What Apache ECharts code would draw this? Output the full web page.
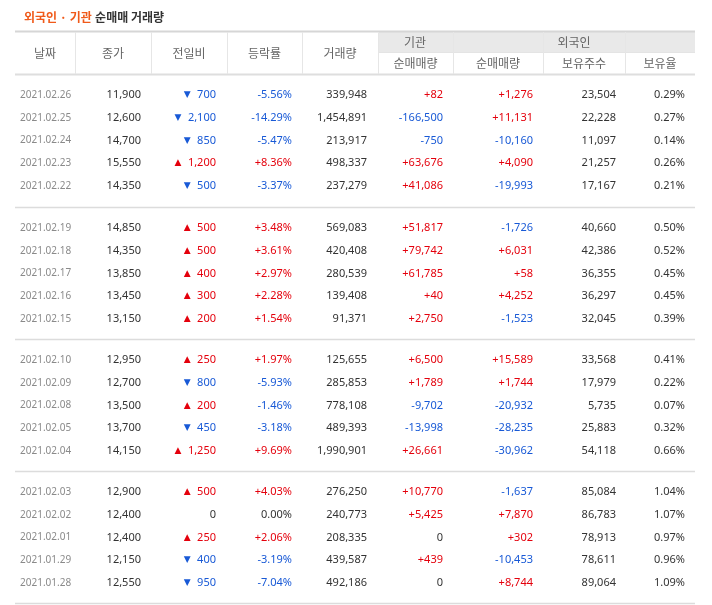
<!DOCTYPE html>
<html><head><meta charset="utf-8">
<script src="https://cdn.jsdelivr.net/npm/echarts@6/dist/echarts.min.js"></script>
<style>html,body{margin:0;padding:0;background:#fff}#c{width:712px;height:605px}</style>
</head><body><div id="c"></div>
<script>
const dates=["2021.02.26","2021.02.25","2021.02.24","2021.02.23","2021.02.22","2021.02.19","2021.02.18","2021.02.17","2021.02.16","2021.02.15","2021.02.10","2021.02.09","2021.02.08","2021.02.05","2021.02.04","2021.02.03","2021.02.02","2021.02.01","2021.01.29","2021.01.28"];
const close=[11900,12600,14700,15550,14350,14850,14350,13850,13450,13150,12950,12700,13500,13700,14150,12900,12400,12400,12150,12550];
const change=[-700,-2100,-850,1200,-500,500,500,400,300,200,250,-800,200,-450,1250,500,0,250,-400,-950];
const rate=[-5.56,-14.29,-5.47,8.36,-3.37,3.48,3.61,2.97,2.28,1.54,1.97,-5.93,-1.46,-3.18,9.69,4.03,0.00,2.06,-3.19,-7.04];
const volume=[339948,1454891,213917,498337,237279,569083,420408,280539,139408,91371,125655,285853,778108,489393,1990901,276250,240773,208335,439587,492186];
const inst=[82,-166500,-750,63676,41086,51817,79742,61785,40,2750,6500,1789,-9702,-13998,26661,10770,5425,0,439,0];
const foreign=[1276,11131,-10160,4090,-19993,-1726,6031,58,4252,-1523,15589,1744,-20932,-28235,-30962,-1637,7870,302,-10453,8744];
const holdings=[23504,22228,11097,21257,17167,40660,42386,36355,36297,32045,33568,17979,5735,25883,54118,85084,86783,78913,78611,89064];
const holdRate=[0.29,0.27,0.14,0.26,0.21,0.50,0.52,0.45,0.45,0.39,0.41,0.22,0.07,0.32,0.66,1.04,1.07,0.97,0.96,1.09];
const headers=["날짜","종가","전일비","등락률","거래량"];

const RED='#e4000c',BLUE='#1859d6',DARK='#333',FONT='"Noto Sans", "Noto Sans CJK KR", sans-serif';
const fmt=n=>Math.abs(n).toLocaleString('en-US');
const sgn=n=>n>0?'+'+fmt(n):n<0?'-'+fmt(n):'0';
const col=n=>n>0?RED:n<0?BLUE:DARK;
const ctx=document.createElement('canvas').getContext('2d');
ctx.font='normal 11px '+FONT;
const L=15,R=695,cols=[15,75,151,227,302,378,453,543,625,695];
const g=[];
function line(x1,y1,x2,y2,c,w){g.push({type:'line',shape:{x1,y1,x2,y2},style:{stroke:c,lineWidth:w||1}});}
function txt(x,y,t,c,align,size,font,weight){g.push({type:'text',x,y,style:{text:t,fill:c,align:align||'right',verticalAlign:'middle',font:(weight||'normal')+' '+(size||11)+'px '+(font||FONT)}});}
g.push({type:'text',x:24,y:17,style:{rich:{a:{fill:'#f05a1a',font:'bold 12px "Noto Sans CJK KR"'},b:{fill:'#333',font:'bold 12px "Noto Sans CJK KR"'}},text:'{a|외국인 · 기관} {b|순매매 거래량}',verticalAlign:'middle'}});
g.push({type:'rect',shape:{x:378,y:31,width:317,height:21},style:{fill:'#e9e9e9'}});
line(L,31.5,R,31.5,'#d6d6d6',2);
line(378,52.5,R,52.5,'#e4e4e4');
line(L,74.5,R,74.5,'#dedede',2);
for(let i=1;i<cols.length-1;i++){const x=cols[i]+0.5;line(x,32,x,74,'#e6e6e6');}
const hf='"Noto Sans CJK KR", sans-serif',hc='#666';
headers.forEach((h,i)=>txt((cols[i]+cols[i+1])/2,53,h,hc,'center',12,hf));
txt(415,42,'기관',hc,'center',12,hf);
txt(574,42,'외국인',hc,'center',12,hf);
['순매매량','순매매량','보유주수','보유율'].forEach((h,i)=>txt((cols[5+i]+cols[6+i])/2,63,h,hc,'center',12,hf));
const groupTop=[74,207,339,471];
dates.forEach((d,i)=>{
  const gi=Math.floor(i/5),k=i%5;
  const y=groupTop[gi]+21+k*22.7;
  txt(20,y,d,'#8a8a8a','left',10);
  txt(141,y,fmt(close[i]),DARK);
  const c=col(change[i]);
  txt(216,y,fmt(change[i]),c);
  if(change[i]!==0){
    const w=ctx.measureText(fmt(change[i])).width;
    txt(216-w-10,y,change[i]>0?'▲':'▼',c,'center',9,'"DejaVu Sans"');
  }
  txt(292,y,(rate[i]>0?'+':'')+rate[i].toFixed(2)+'%',col(rate[i]));
  txt(367,y,fmt(volume[i]),DARK);
  txt(443,y,sgn(inst[i]),col(inst[i]));
  txt(533,y,sgn(foreign[i]),col(foreign[i]));
  txt(616,y,fmt(holdings[i]),DARK);
  txt(685,y,holdRate[i].toFixed(2)+'%',DARK);
});
[207,339,471,603].forEach(y=>line(L,y+0.5,R,y+0.5,'#dcdcdc',1.5));
const chart=echarts.init(document.getElementById('c'));
chart.setOption({graphic:g});
</script></body></html>
